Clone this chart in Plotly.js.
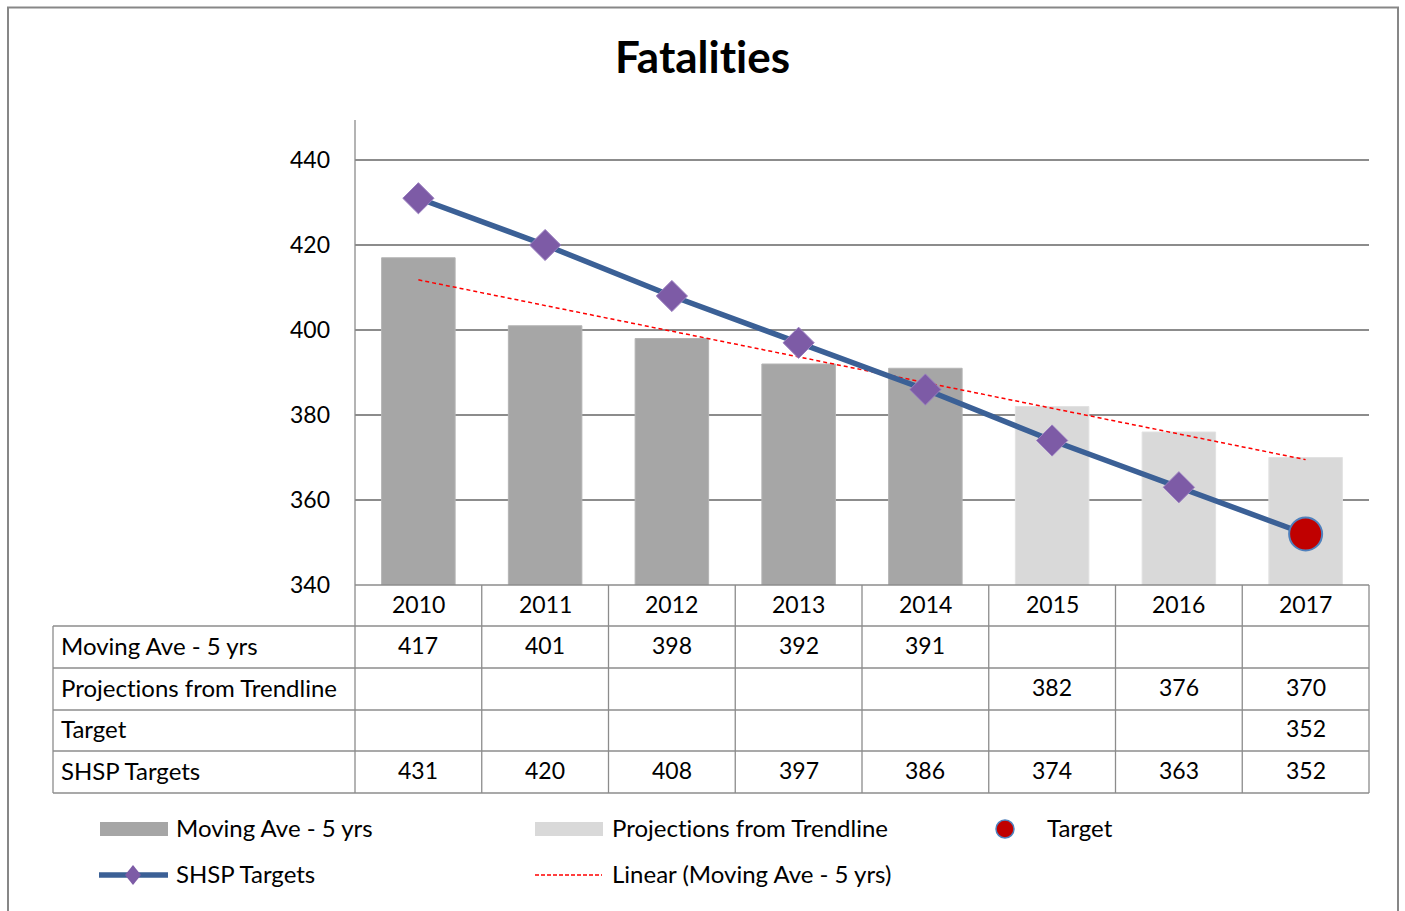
<!DOCTYPE html>
<html>
<head>
<meta charset="utf-8">
<script src="https://cdn.plot.ly/plotly-3.0.1.min.js"></script>
<style>
  body { margin: 0; background: #fff; }
  #chart { width: 1405px; height: 911px; }
</style>
</head>
<body>
<div id="chart"></div>
<script>
// data
const years = ["2010", "2011", "2012", "2013", "2014", "2015", "2016", "2017"];
const movingAve = [417, 401, 398, 392, 391, null, null, null];
const projections = [null, null, null, null, null, 382, 376, 370];
const target = [null, null, null, null, null, null, null, 352];
const shspTargets = [431, 420, 408, 397, 386, 374, 363, 352];
const trendYears = ["2010", "2017"];
const trendValues = [411.8, 369.5];

const rowNames = ["Moving Ave - 5 yrs", "Projections from Trendline", "Target", "SHSP Targets"];
const rowValues = [movingAve, projections, target, shspTargets];

// plot area in pixels
const L = 355, R = 1369, T = 120, B = 585;
const W = 1405, H = 911;
function px(x) { return (x - L) / (R - L); }
function py(y) { return (B - y) / (B - T); }
// keep Lato from joining "ti" into a ligature
function noLig(s) { return s.replace(/ti/g, "t\u200Ci"); }

const font = "Lato, 'Open Sans', sans-serif";
const gridCol = "#8c8c8c";
const shspBlue = "#3b6096";
const diamondCol = "#7d5ba6";
const textSize = 24, numSize = 23;

let data = [
    {
        type: "bar", name: "Moving Ave - 5 yrs", x: years, y: movingAve,
        width: 0.58, marker: { color: "#a6a6a6", line: { color: "#b4b4b4", width: 1 } }, hoverinfo: "y"
    },
    {
        type: "bar", name: "Projections from Trendline", x: years, y: projections,
        width: 0.58, marker: { color: "#d9d9d9", line: { color: "#e2e2e2", width: 1 } }, hoverinfo: "y"
    },
    {
        type: "scatter", mode: "lines", name: "Linear (Moving Ave - 5 yrs)",
        x: trendYears, y: trendValues,
        line: { color: "#ff0000", width: 1.5, dash: "4px,3px" }, hoverinfo: "skip"
    },
    {
        type: "scatter", mode: "lines+markers", name: "SHSP Targets",
        x: years, y: shspTargets,
        line: { color: shspBlue, width: 5.5 },
        marker: { symbol: "diamond", size: 24, color: diamondCol, line: { color: "#9a7fc0", width: 1 } }
    },
    {
        type: "scatter", mode: "markers", name: "Target", x: years, y: target,
        marker: { symbol: "circle", size: 33, color: "#c00000", line: { color: "#4f81bd", width: 2 } }
    }
];

let shapes = [];
let annotations = [];

// outer frame
shapes.push({ type: "rect", xref: "paper", yref: "paper",
    x0: px(8), x1: px(1398), y0: py(7.5), y1: py(930),
    line: { color: "#878787", width: 2 }, layer: "below" });

// table grid
function hline(y, x0, x1) {
    shapes.push({ type: "line", xref: "paper", yref: "paper",
        x0: px(x0), x1: px(x1), y0: py(y), y1: py(y), line: { color: gridCol, width: 1.3 } });
}
function vline(x, y0, y1) {
    shapes.push({ type: "line", xref: "paper", yref: "paper",
        x0: px(x), x1: px(x), y0: py(y0), y1: py(y1), line: { color: gridCol, width: 1.3 } });
}
const rowLines = [585, 626, 668, 710, 751, 793];
hline(585, L, R);
for (let i = 1; i < rowLines.length; i++) hline(rowLines[i], 53, R);
vline(53, 626, 793);
vline(L, T, 793);
for (let i = 1; i <= years.length; i++) {
    const x = L + i * (R - L) / years.length;
    vline(x, 585, 793);
}

function cellText(xref, x, y, txt, size, anchor) {
    annotations.push({ xref: xref, yref: "paper", x: x, y: py(y), text: txt,
        xanchor: anchor || "center", yanchor: "middle", showarrow: false,
        font: { size: size, color: "#000" } });
}

// year header row (category axis: annotations use the category index)
years.forEach(function (yr, i) { cellText("x", i, 604, yr, numSize); });

// value rows
const rowCenters = [645, 687, 728, 770];
rowNames.forEach(function (name, r) {
    cellText("paper", px(59), rowCenters[r], noLig(name), textSize, "left");
    rowValues[r].forEach(function (v, i) {
        if (v === null) return;
        cellText("x", i, rowCenters[r], String(v), numSize);
    });
});

// legend, drawn by hand to match the layout
function legendText(x, y, txt) { cellText("paper", px(x), y, noLig(txt), textSize, "left"); }
shapes.push({ type: "rect", xref: "paper", yref: "paper", x0: px(100), x1: px(168), y0: py(822), y1: py(836),
    fillcolor: "#a6a6a6", line: { width: 0 } });
legendText(174, 827, rowNames[0]);
shapes.push({ type: "rect", xref: "paper", yref: "paper", x0: px(535), x1: px(603), y0: py(822), y1: py(836),
    fillcolor: "#d9d9d9", line: { width: 0 } });
legendText(610, 827, rowNames[1]);
shapes.push({ type: "circle", xref: "paper", yref: "paper", x0: px(996), x1: px(1014), y0: py(820), y1: py(838),
    fillcolor: "#c00000", line: { color: "#4f81bd", width: 1.5 } });
legendText(1045, 827, rowNames[2]);
shapes.push({ type: "line", xref: "paper", yref: "paper", x0: px(99), x1: px(168), y0: py(875), y1: py(875),
    line: { color: shspBlue, width: 5.5 } });
shapes.push({ type: "path", xref: "paper", yref: "paper",
    path: "M " + px(133) + "," + py(865) + " L " + px(141) + "," + py(875) + " L " + px(133) + "," + py(885) +
          " L " + px(125) + "," + py(875) + " Z",
    fillcolor: diamondCol, line: { width: 0 } });
legendText(174, 873, rowNames[3]);
shapes.push({ type: "line", xref: "paper", yref: "paper", x0: px(535), x1: px(602), y0: py(875), y1: py(875),
    line: { color: "#ff0000", width: 1.5, dash: "4px,2px" } });
legendText(610, 873, "Linear (Moving Ave - 5 yrs)");

let layout = {
    width: W, height: H,
    margin: { l: L, r: W - R, t: T, b: H - B, pad: 0 },
    paper_bgcolor: "#fff", plot_bgcolor: "#fff",
    font: { family: font, color: "#000" },
    title: { text: "<b>" + noLig("Fatalities") + "</b>", x: 0.5, xref: "container", xanchor: "center",
        y: 1 - 58 / H, yref: "container", yanchor: "middle",
        font: { size: 44, family: font } },
    barmode: "overlay",
    showlegend: false,
    xaxis: {
        type: "category", range: [-0.5, 7.5], showgrid: false, zeroline: false,
        showticklabels: false, ticks: "", showline: false, fixedrange: true
    },
    yaxis: {
        range: [340, 340 + (B - T) / 4.25], tickvals: [340, 360, 380, 400, 420, 440],
        showgrid: true, gridcolor: gridCol, gridwidth: 1.3, zeroline: false,
        showline: false, ticks: "", ticklabelstandoff: 24,
        tickfont: { size: numSize, color: "#000" }, fixedrange: true
    },
    shapes: shapes,
    annotations: annotations
};

Plotly.newPlot("chart", data, layout, { displayModeBar: false, staticPlot: true });
</script>
</body>
</html>
